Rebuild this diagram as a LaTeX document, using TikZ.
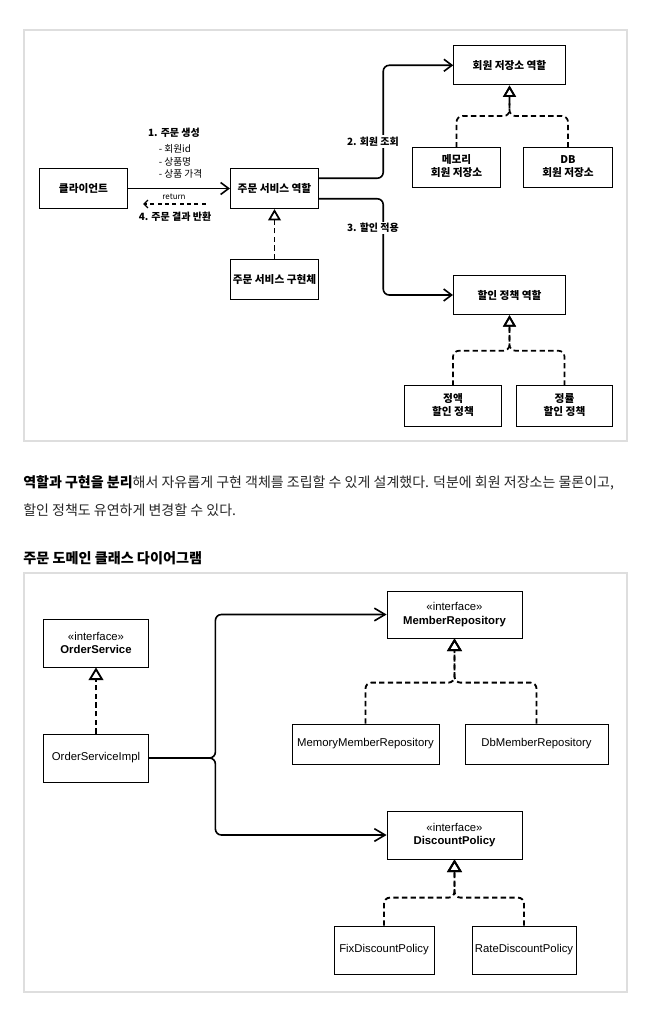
\documentclass[tikz,border=0pt]{standalone}
\usepackage{fontspec}
\setmainfont{Liberation Sans}
\newfontfamily\kr{Noto Sans CJK KR}
\usetikzlibrary{arrows.meta,calc}

\begin{document}
\begin{tikzpicture}[x=0.75pt,y=-0.75pt]
    \tikzstyle{frame} = [draw=black!13, line width=1.1pt]
    \tikzstyle{role} = [rectangle, draw=black, line width=0.8pt, text centered, inner sep=0pt, font=\kr\bfseries\fontsize{8}{11.5}\selectfont]
    \tikzstyle{roletwo} = [rectangle, inner sep=0pt, font=\kr\bfseries\fontsize{8}{10}\selectfont]
    \tikzstyle{cls} = [rectangle, draw=black, line width=0.6pt, text centered, align=center, inner sep=0pt, font=\fontsize{8.5}{10}\selectfont]
    \tikzstyle{lbl} = [fill=white, inner sep=1pt, font=\kr\bfseries\fontsize{7.5}{9}\selectfont]
    \tikzstyle{arrow} = [line width=1.2pt, rounded corners=4.5pt, -{Straight Barb[length=6pt,width=9pt]}]
    \tikzstyle{arrowbig} = [line width=1.2pt, rounded corners=4.5pt, -{Straight Barb[length=8pt,width=9.5pt]}]
    \tikzstyle{ret} = [line width=1pt, dash pattern=on 3pt off 2.5pt, -{Straight Barb[length=3pt,width=6pt]}]
    \tikzstyle{impl} = [line width=1.3pt, dash pattern=on 4pt off 2.5pt, rounded corners=4.5pt, -{Triangle[open,length=8.5pt,width=9.5pt]}]
    \tikzstyle{implbig} = [line width=1.4pt, dash pattern=on 4pt off 2.5pt, rounded corners=4.5pt, -{Triangle[open,length=9.5pt,width=11pt]}]

    \fill[white] (0,0) rectangle (651,1020);
    \useasboundingbox (0,0) rectangle (651,1020);

    % role diagram
    \draw[frame] (24,30) rectangle (627,441);

    \node (client) [role, minimum width=66pt, minimum height=30pt] at (83.5,188.5) {클라이언트};
    \node (ordrole) [role, minimum width=66pt, minimum height=30pt] at (274.5,188.5) {주문 서비스 역할};
    \node (ordimpl) [role, minimum width=66pt, minimum height=29.5pt] at (274.5,279.5) {주문 서비스 구현체};
    \node (memrole) [role, minimum width=83.6pt, minimum height=29.5pt] at (509.5,65.3) {회원 저장소 역할};
    \node (memmem) [roletwo, minimum width=65.3pt, minimum height=29.5pt] at (456.5,167.5) {\begin{tabular}{@{}c@{}}메모리\\회원 저장소\end{tabular}};
    \node (memdb) [roletwo, minimum width=66pt, minimum height=29.5pt] at (568,167.5) {\begin{tabular}{@{}c@{}}DB\\회원 저장소\end{tabular}};
    \node (disrole) [role, minimum width=84pt, minimum height=29.5pt] at (509.5,295) {할인 정책 역할};
    \node (disfix) [roletwo, minimum width=72pt, minimum height=30pt] at (453,406) {\begin{tabular}{@{}c@{}}정액\\할인 정책\end{tabular}};
    \node (disrate) [roletwo, minimum width=71.3pt, minimum height=30pt] at (564.5,406) {\begin{tabular}{@{}c@{}}정률\\할인 정책\end{tabular}};
    \foreach \n in {memmem,memdb,disfix,disrate}
        \draw[black, line width=0.8pt] (\n.north west) rectangle (\n.south east);

    \coordinate (retstart) at (205.5,204);
    \coordinate (retend) at (143,204);

    \draw [arrow] (client) -- (ordrole);
    \draw [ret] (retstart) -- (retend);
    \draw [arrow] ($(ordrole.north east)!.25!(ordrole.south east)$) -- ++(64.2,0) |- (memrole.west);
    \draw [arrow] ($(ordrole.north east)!.75!(ordrole.south east)$) -- ++(64.2,0) |- (disrole.west);
    \draw [impl] (ordimpl) -- (ordrole);
    \draw [impl] (memmem.north) -- ++(0,-31.5) -| (memrole.south);
    \draw [impl] (memdb.north) -- ++(0,-31.5) -| (memrole.south);
    \draw [impl] (disfix.north) -- ++(0,-35) -| (disrole.south);
    \draw [impl] (disrate.north) -- ++(0,-35) -| (disrole.south);

    \node (lblcreate) [lbl] at (174,133) {1. 주문 생성};
    \node (lblfields) [anchor=west, align=left, inner sep=0pt, font=\kr\fontsize{7.3}{9.4}\selectfont] at (158.5,161.5) {- 회원id\\- 상품명\\- 상품 가격};
    \node (lblreturn) [inner sep=0pt, font=\kr\fontsize{6}{7}\selectfont] at (174,196.7) {return};
    \node (lblresult) [lbl] at (175,217) {4. 주문 결과 반환};
    \node (lblfind) [lbl] at (373,141.5) {2. 회원 조회};
    \node (lbldisc) [lbl] at (373,228) {3. 할인 적용};

    % text between the diagrams
    \node (para1) [anchor=west, inner sep=0pt, text=black!85, font=\kr\fontsize{10.5}{12}\selectfont] at (23,483) {\textbf{\color{black}역할과 구현을 분리}해서 자유롭게 구현 객체를 조립할 수 있게 설계했다. 덕분에 회원 저장소는 물론이고,};
    \node (para2) [anchor=west, inner sep=0pt, text=black!85, font=\kr\fontsize{10.5}{12}\selectfont] at (23,510) {할인 정책도 유연하게 변경할 수 있다.};
    \node (heading) [anchor=west, inner sep=0pt, font=\kr\bfseries\fontsize{10.6}{13}\selectfont] at (23,558) {주문 도메인 클래스 다이어그램};

    % class diagram
    \draw[frame] (24,573) rectangle (627,992);

    \node (ordsvc) [cls, minimum width=78.75pt, minimum height=36pt] at (96,643) {«interface»\\\textbf{OrderService}};
    \node (ordsvcimpl) [cls, minimum width=78.75pt, minimum height=36pt] at (96,758) {OrderServiceImpl};
    \node (memrepo) [cls, minimum width=101.25pt, minimum height=35.25pt] at (454.5,614.5) {«interface»\\\textbf{MemberRepository}};
    \node (memrepomem) [cls, minimum width=110.25pt, minimum height=30pt] at (365.5,744) {MemoryMemberRepository};
    \node (memrepodb) [cls, minimum width=107.25pt, minimum height=30pt] at (536.5,744) {DbMemberRepository};
    \node (discpol) [cls, minimum width=101.25pt, minimum height=36pt] at (454.5,835) {«interface»\\\textbf{DiscountPolicy}};
    \node (discfix) [cls, minimum width=75pt, minimum height=36pt] at (384,950) {FixDiscountPolicy};
    \node (discrate) [cls, minimum width=78pt, minimum height=36pt] at (524,950) {RateDiscountPolicy};

    \draw [arrowbig] (ordsvcimpl.east) -- ++(66.5,0) |- (memrepo.west);
    \draw [arrowbig] (ordsvcimpl.east) -- ++(66.5,0) |- (discpol.west);
    \draw [implbig] (ordsvcimpl) -- (ordsvc);
    \draw [implbig] (memrepomem.north) -- ++(0,-41) -| (memrepo.south);
    \draw [implbig] (memrepodb.north) -- ++(0,-41) -| (memrepo.south);
    \draw [implbig] (discfix.north) -- ++(0,-28) -| (discpol.south);
    \draw [implbig] (discrate.north) -- ++(0,-28) -| (discpol.south);
\end{tikzpicture}
\end{document}
